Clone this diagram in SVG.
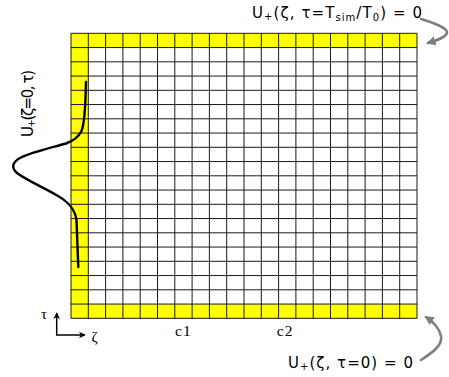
<svg xmlns="http://www.w3.org/2000/svg" width="449" height="377" viewBox="0 0 449 377">
<style>
.lbl{font-family:"DejaVu Sans",Verdana,sans-serif;font-size:15px;fill:#000}
.sub{font-size:10px}
.ser{font-family:"Liberation Serif","Times New Roman",serif;font-size:15px;fill:#000}
.cl{font-family:"Liberation Serif","Times New Roman",serif;font-size:15.5px;letter-spacing:1.2px;fill:#000}
.grid{stroke:#1a1a1a;stroke-width:1;fill:none}
.yel{fill:#ffff00}
.gar{stroke:#7f7f7f;stroke-width:2.6;fill:none;stroke-linecap:round}
.ax{stroke:#000;stroke-width:1.5;fill:none}
</style>
<defs>
<marker id="gh" viewBox="0 0 10 10" refX="8" refY="5" markerWidth="3.6" markerHeight="3.6" orient="auto" markerUnits="strokeWidth">
<path d="M0,0 L10,5 L0,10 Z" fill="#7f7f7f"/>
</marker>
<marker id="bh" viewBox="0 0 10 10" refX="9" refY="5" markerWidth="4.5" markerHeight="4.5" orient="auto" markerUnits="strokeWidth">
<path d="M0,0 L10,5 L0,10 L3,5 Z" fill="#000"/>
</marker>
</defs>
<g id="grid">
<rect class="yel" x="71" y="33.3" width="346" height="14.25"/>
<rect class="yel" x="71" y="304.05" width="346" height="14.25"/>
<rect class="yel" x="71" y="33.3" width="17.3" height="285"/>
<path class="grid" d="M71,33.3V318.3M88.3,33.3V318.3M105.6,33.3V318.3M122.9,33.3V318.3M140.2,33.3V318.3M157.5,33.3V318.3M174.8,33.3V318.3M192.1,33.3V318.3M209.4,33.3V318.3M226.7,33.3V318.3M244,33.3V318.3M261.3,33.3V318.3M278.6,33.3V318.3M295.9,33.3V318.3M313.2,33.3V318.3M330.5,33.3V318.3M347.8,33.3V318.3M365.1,33.3V318.3M382.4,33.3V318.3M399.7,33.3V318.3M417,33.3V318.3
M71,33.3H417M71,47.55H417M71,61.8H417M71,76.05H417M71,90.3H417M71,104.55H417M71,118.8H417M71,133.05H417M71,147.3H417M71,161.55H417M71,175.8H417M71,190.05H417M71,204.3H417M71,218.55H417M71,232.8H417M71,247.05H417M71,261.3H417M71,275.55H417M71,289.8H417M71,304.05H417M71,318.3H417"/>
</g>
<g id="pulse">
<path d="M86,82 C85.5,108 84.5,124 81.5,131 C78,138 73,141 66,143.5 C50,148 32,152 21,157.5 C12,162 11,168 17,173 C26,180 45,188 58,196 C70,203 75,210 76.5,220 L78.3,267" stroke="#000" stroke-width="2.4" fill="none" stroke-linecap="round"/>
</g>
<g id="labels">
<text class="lbl" x="252" y="18.3" textLength="170">U<tspan class="sub" dy="2">+</tspan><tspan dy="-2">(ζ, τ=T</tspan><tspan class="sub" dy="3">sim</tspan><tspan dy="-3">/T</tspan><tspan class="sub" dy="3">0</tspan><tspan dy="-3">) = 0</tspan></text>
<text class="lbl" x="288" y="368.3" textLength="125">U<tspan class="sub" dy="2">+</tspan><tspan dy="-2">(ζ, τ=0) = 0</tspan></text>
<text class="lbl" transform="translate(33,137) rotate(-90)" textLength="67">U<tspan class="sub" dy="2">+</tspan><tspan dy="-2">(ζ=0, τ)</tspan></text>
<text class="cl" x="175" y="335.5">c1</text>
<text class="cl" x="276.7" y="335.5">c2</text>
<text class="ser" x="41" y="319">τ</text>
<text class="ser" x="91.5" y="342">ζ</text>
</g>
<g id="connectors">
<path class="gar" d="M421,19 C434,23 446,27 447,32 C447,37 438,40 428,43" marker-end="url(#gh)"/>
<path class="gar" d="M421,360 C432,353 443,345 441,336 C439,327 432,321 426,317" marker-end="url(#gh)"/>
<path class="ax" d="M56.7,335V313" marker-end="url(#bh)"/>
<path class="ax" d="M56,335H85" marker-end="url(#bh)"/>
</g>
</svg>
